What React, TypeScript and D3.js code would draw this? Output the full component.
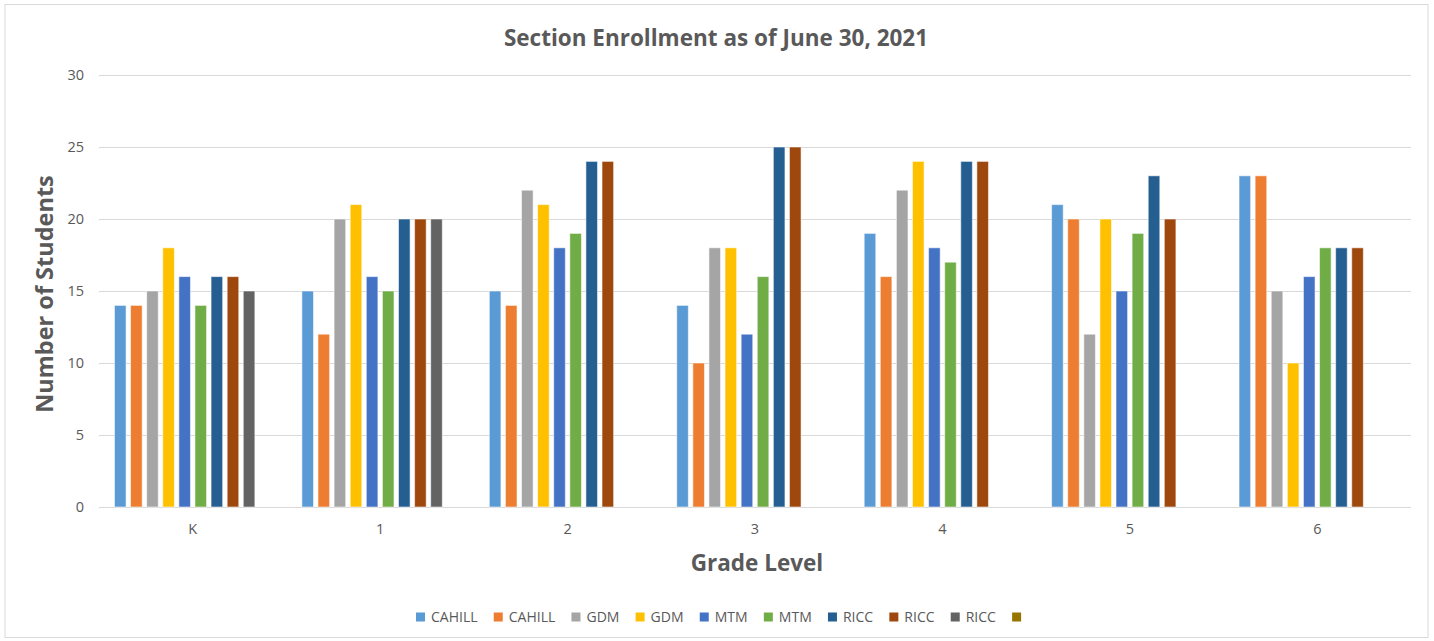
import React, { useEffect, useRef } from "react";
import * as d3 from "d3";

const categories = ["K", "1", "2", "3", "4", "5", "6"];
const seriesNames = ["CAHILL", "CAHILL", "GDM", "GDM", "MTM", "MTM", "RICC", "RICC", "RICC", ""];
const seriesColors = ["#5B9BD5", "#ED7D31", "#A5A5A5", "#FFC000", "#4472C4", "#70AD47", "#255E91", "#9E480E", "#636363", "#997300"];
// values[grade][series]
const gradeK = [14, 14, 15, 18, 16, 14, 16, 16, 15, null];
const grade1 = [15, 12, 20, 21, 16, 15, 20, 20, 20, null];
const grade2 = [15, 14, 22, 21, 18, 19, 24, 24, null, null];
const grade3 = [14, 10, 18, 18, 12, 16, 25, 25, null, null];
const grade4 = [19, 16, 22, 24, 18, 17, 24, 24, null, null];
const grade5 = [21, 20, 12, 20, 15, 19, 23, 20, null, null];
const grade6 = [23, 23, 15, 10, 16, 18, 18, 18, null, null];
const values = [gradeK, grade1, grade2, grade3, grade4, grade5, grade6];
const yTicks = [0, 5, 10, 15, 20, 25, 30];

const W = 1434, H = 641;
const FONT = "'Open Sans', 'Noto Sans', sans-serif";
const TXT = "#595959";

export default function App() {
  const ref = useRef<SVGSVGElement>(null);
  useEffect(() => {
    const svg = d3.select(ref.current);
    svg.selectAll("*").remove();
    const left = 99, right = 1411, top = 75, bottom = 507;
    const x = d3.scaleBand().domain(categories).range([left, right]).paddingInner(0).paddingOuter(0);
    const y = d3.scaleLinear().domain([0, 30]).range([bottom, top]);
    const step = 16.1, bw = 11.6;
    const groupW = step * 9 + bw;
    const xs = d3.scaleLinear().domain([0, 9]).range([0, step * 9]);

    svg.append("rect").attr("x", 5).attr("y", 4.5).attr("width", 1423).attr("height", 633)
      .attr("fill", "#fff").attr("stroke", "#d9d9d9").attr("stroke-width", 1);

    svg.append("g").selectAll("line").data(yTicks).join("line")
      .attr("x1", left).attr("x2", right)
      .attr("y1", d => y(d) + 0.5).attr("y2", d => y(d) + 0.5)
      .attr("stroke", "#d9d9d9").attr("stroke-width", 1);

    svg.append("g").selectAll("text").data(yTicks).join("text")
      .attr("x", 84).attr("y", d => y(d)).attr("dy", "0.35em").attr("text-anchor", "end")
      .attr("font-family", FONT).attr("font-size", 14.5).attr("fill", TXT).text(d => d);

    categories.forEach((c, gi) => {
      const cx = (x(c) as number) + x.bandwidth() / 2;
      const start = cx - groupW / 2;
      const g = svg.append("g");
      values[gi].forEach((v, si) => {
        if (v == null) return;
        g.append("rect")
          .attr("x", start + xs(si)).attr("width", bw)
          .attr("y", y(v)).attr("height", y(0) - y(v))
          .attr("fill", seriesColors[si]).attr("stroke", "#ffffff").attr("stroke-opacity", 0.55).attr("stroke-width", 1);
      });
      svg.append("text").attr("x", cx).attr("y", 534).attr("text-anchor", "middle")
        .attr("font-family", FONT).attr("font-size", 14.5).attr("fill", TXT).text(c);
    });

    svg.append("text").attr("x", 716).attr("y", 46).attr("text-anchor", "middle")
      .attr("font-family", FONT).attr("font-weight", "bold").attr("font-size", 22.5).attr("fill", TXT)
      .text("Section Enrollment as of June 30, 2021");
    svg.append("text").attr("x", 757).attr("y", 571).attr("text-anchor", "middle")
      .attr("font-family", FONT).attr("font-weight", "bold").attr("font-size", 22.5).attr("fill", TXT)
      .text("Grade Level");
    svg.append("text").attr("transform", `translate(53, 294) rotate(-90)`).attr("text-anchor", "middle")
      .attr("font-family", FONT).attr("font-weight", "bold").attr("font-size", 23.5).attr("fill", TXT)
      .text("Number of Students");

    // legend
    const lg = svg.append("g");
    const items = seriesNames.map((n, i) => {
      const it = lg.append("g");
      it.append("rect").attr("x", 0).attr("y", -4.5).attr("width", 9).attr("height", 9).attr("fill", seriesColors[i]);
      const t = it.append("text").attr("x", 15).attr("y", 0).attr("dy", "0.35em")
        .attr("font-family", FONT).attr("font-size", 14).attr("fill", TXT).text(n);
      const w = n ? 15 + (t.node() as SVGTextElement).getComputedTextLength() : 9;
      return { it, w };
    });
    const gap = 16.2;
    let cur = 416;
    items.forEach(({ it, w }) => {
      it.attr("transform", `translate(${cur}, 617)`);
      cur += w + gap;
    });
  }, []);
  return <svg ref={ref} width={W} height={H} style={{ display: "block", position: "absolute", left: 0, top: 0 }} />;
}
